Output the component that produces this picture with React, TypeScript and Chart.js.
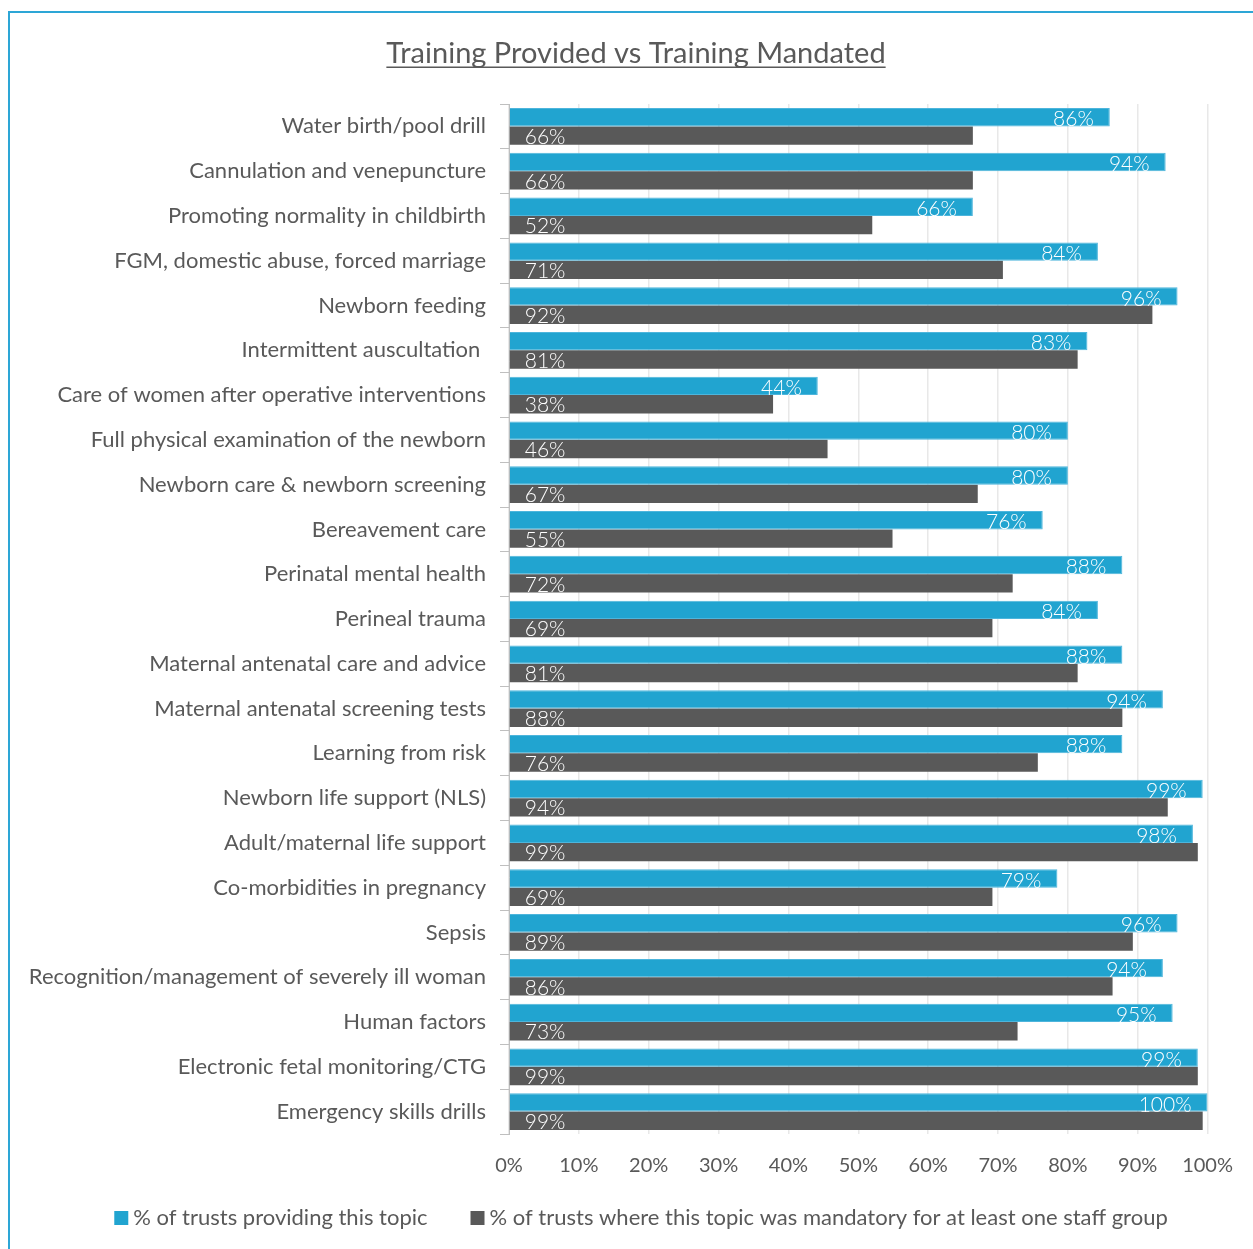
import React, { useEffect, useRef } from "react";
import { Chart, registerables } from "chart.js";

Chart.register(...registerables);

const TITLE = "Training Provided vs Training Mandated";

const categories = [
  "Water birth/pool drill",
  "Cannulation and venepuncture",
  "Promoting normality in childbirth",
  "FGM, domestic abuse, forced marriage",
  "Newborn feeding",
  "Intermittent auscultation ",
  "Care of women after operative interventions",
  "Full physical examination of the newborn",
  "Newborn care & newborn screening",
  "Bereavement care",
  "Perinatal mental health",
  "Perineal trauma",
  "Maternal antenatal care and advice",
  "Maternal antenatal screening tests",
  "Learning from risk",
  "Newborn life support (NLS)",
  "Adult/maternal life support",
  "Co-morbidities in pregnancy",
  "Sepsis",
  "Recognition/management of severely ill woman",
  "Human factors",
  "Electronic fetal monitoring/CTG",
  "Emergency skills drills",
];

const providedValues = [
  86.0, 94.0, 66.4, 84.3, 95.7, 82.8, 44.2, 80.0, 80.0, 76.4, 87.8, 84.3,
  87.8, 93.6, 87.8, 99.3, 97.9, 78.5, 95.7, 93.6, 95.0, 98.6, 100.0,
];

const mandatedValues = [
  66.4, 66.4, 52.0, 70.7, 92.1, 81.4, 37.8, 45.6, 67.1, 54.9, 72.1, 69.2,
  81.4, 87.8, 75.7, 94.3, 98.6, 69.2, 89.3, 86.4, 72.8, 98.6, 99.3,
];

const seriesNames = [
  "% of trusts providing this topic",
  "% of trusts where this topic was mandatory for at least one staff group",
];

const xTickMin = 0;
const xTickMax = 100;
const xTickStep = 10;

const FONT = "Lato, 'Liberation Sans', sans-serif";
const TEXT = "#595959";
const BLUE = "#21A4D0";
const DARK = "#595959";

const titlePlugin = {
  id: "underlinedTitle",
  afterDraw(chart: any) {
    const ctx = chart.ctx;
    ctx.save();
    ctx.font = `29px ${FONT}`;
    ctx.fillStyle = TEXT;
    ctx.textAlign = "center";
    ctx.textBaseline = "alphabetic";
    const x = 626;
    const y = 50;
    ctx.fillText(TITLE, x, y);
    const w = ctx.measureText(TITLE).width;
    ctx.fillRect(x - w / 2, y + 3.5, w, 1.5);
    ctx.restore();
  },
};

// Legend drawn from the chart's own datasets (box, small gap, text)
const legendPlugin = {
  id: "bottomLegend",
  afterDraw(chart: any) {
    const ctx = chart.ctx;
    ctx.save();
    ctx.font = `22px ${FONT}`;
    ctx.textBaseline = "middle";
    ctx.textAlign = "left";
    const box = 14;
    const gap = 5;
    const itemGap = 43;
    const items = chart.data.datasets.map((ds: any) => ({
      text: ds.label as string,
      color: ds.backgroundColor as string,
      w: ctx.measureText(ds.label).width,
    }));
    const total =
      items.reduce((s: number, it: any) => s + box + gap + it.w, 0) +
      itemGap * (items.length - 1);
    const cy = 1205;
    let x = 631 - total / 2;
    items.forEach((it: any) => {
      ctx.fillStyle = it.color;
      ctx.fillRect(x, cy - box / 2, box, box);
      x += box + gap;
      ctx.fillStyle = TEXT;
      ctx.fillText(it.text, x, cy);
      x += it.w + itemGap;
    });
    ctx.restore();
  },
};

const valueLabelPlugin = {
  id: "valueLabels",
  afterDatasetsDraw(chart: any) {
    const ctx = chart.ctx;
    ctx.save();
    ctx.font = `300 21px ${FONT}`;
    ctx.fillStyle = "#ffffff";
    ctx.textBaseline = "alphabetic";
    chart.data.datasets.forEach((ds: any, i: number) => {
      const meta = chart.getDatasetMeta(i);
      meta.data.forEach((bar: any, j: number) => {
        const v = ds.data[j] as number;
        const txt = Math.round(v) + "%";
        const bottom = bar.y + bar.height / 2;
        if (i === 0) {
          ctx.textAlign = "right";
          ctx.fillText(txt, bar.x - 16, bottom);
        } else {
          ctx.textAlign = "left";
          ctx.fillText(txt, bar.base + 15, bottom - 1);
        }
      });
    });
    ctx.restore();
  },
};

export default function App() {
  const ref = useRef<HTMLCanvasElement | null>(null);

  useEffect(() => {
    if (!ref.current) return;
    const chart = new Chart(ref.current, {
      type: "bar",
      data: {
        labels: categories,
        datasets: [
          {
            label: seriesNames[0],
            data: providedValues,
            backgroundColor: BLUE,
            borderColor: "#4db5dc",
            borderWidth: 1,
            categoryPercentage: 0.82,
            barPercentage: 1,
          },
          {
            label: seriesNames[1],
            data: mandatedValues,
            backgroundColor: DARK,
            borderColor: "#6a6a6a",
            borderWidth: 0,
            categoryPercentage: 0.82,
            barPercentage: 1,
          },
        ],
      },
      options: {
        indexAxis: "y",
        animation: false,
        responsive: false,
        maintainAspectRatio: false,
        layout: { padding: { left: 0, right: 45, top: 91, bottom: 55 } },
        scales: {
          x: {
            min: xTickMin,
            max: xTickMax,
            ticks: {
              stepSize: xTickStep,
              callback: (v: any) => v + "%",
              color: TEXT,
              font: { family: FONT, size: 20 },
              padding: 20,
            },
            grid: {
              color: "#e8e8e8",
              lineWidth: 1.5,
              drawTicks: false,
            },
            border: { display: false },
            afterFit: (scale: any) => {
              scale.height = 60;
            },
          },
          y: {
            ticks: {
              color: TEXT,
              font: { family: FONT, size: 22 },
              padding: 14,
              autoSkip: false,
            },
            grid: {
              drawOnChartArea: false,
              drawTicks: true,
              tickLength: 9,
              color: "#bfbfbf",
              offset: true,
            },
            border: { display: true, color: "#bfbfbf", width: 1 },
            afterFit: (scale: any) => {
              scale.width = 499;
            },
          },
        },
        plugins: {
          title: { display: false },
          tooltip: { enabled: false },
          legend: { display: false },
        },
      },
      plugins: [titlePlugin, valueLabelPlugin, legendPlugin],
    } as any);
    return () => chart.destroy();
  }, []);

  return (
    <div
      style={{
        position: "absolute",
        left: 0,
        top: 0,
        width: 1253,
        height: 1249,
        overflow: "hidden",
        background: "#ffffff",
      }}
    >
      <div
        style={{
          position: "absolute",
          left: 8,
          top: 11,
          width: 1270,
          height: 1270,
          border: "2px solid #2DA6D6",
          boxSizing: "border-box",
        }}
      >
        <canvas
          ref={ref}
          width={1243}
          height={1236}
          style={{ position: "absolute", left: 0, top: 0, width: 1243, height: 1236 }}
        />
      </div>
    </div>
  );
}
